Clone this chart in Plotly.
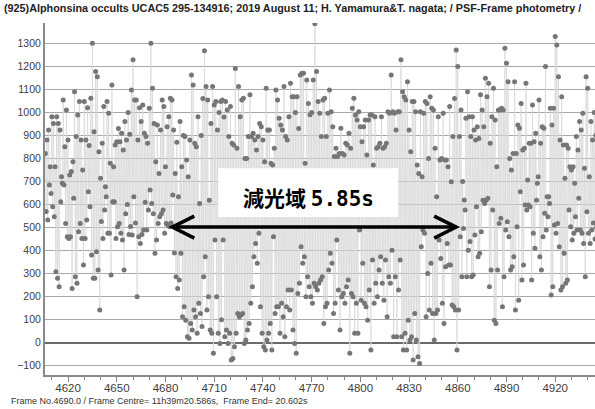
import plotly.graph_objects as go

# ---- data ----
frame_first = 4606

# brighter field of each frame
field_a = [
    822, 880, 924, 764, 981, 952, 764, 981, 952, 924, 721, 1054, 851, 1010, 880,
    728, 743, 786, 1090, 895, 989, 1047, 880, 750, 1047, 880, 1020, 856, 1061, 1300,
    916, 1177, 1155, 829, 714, 866, 1025, 677, 1047, 996, 779, 1119, 764, 858, 873,
    930, 873, 909, 837, 960, 880, 1000, 905, 1097, 1228, 1054,
    1054, 880, 1020, 960, 1032, 909, 895, 866, 1018, 1300, 1105, 952, 786, 945, 735,
    924, 1054, 1025, 764, 938, 981, 1061, 1054, 924, 735, 870, 634, 960, 764, 900,
    895, 793, 721, 880, 1162, 1119, 866, 851, 981, 605, 900, 1060, 1268, 1112, 1054,
    619, 952, 1112, 1032, 1047, 924, 1000, 1047,
    1054, 980, 1047, 1010, 895, 1025, 866, 858, 1191, 844, 1112, 981, 1054, 1061, 800,
    800, 895, 1076, 895, 909, 880, 837, 895, 952, 938, 880, 786, 1105, 924, 924,
    779, 772, 844, 1097, 1054, 974, 945, 924, 1112, 895, 880, 981, 1126, 1068, 1068,
    1000, 1068, 930, 1162, 1170, 1170, 779, 1141, 1039, 990, 1000,
    1141, 1385, 1177, 1047, 996, 895, 1054, 1061, 895, 996, 1097, 1003, 938, 808, 844,
    808, 822, 931, 822, 815, 866, 858, 909, 844, 1018, 1061, 989, 967, 1003, 938,
    873, 938, 967, 815, 967, 989, 989, 772, 981, 844, 851, 866,
    981, 844, 851, 866, 1003, 996, 1162, 1003, 996, 924, 1003, 1003, 1228, 1090,
    1068, 1054, 1133, 924, 829, 1047, 1047, 1003, 772, 735, 1003, 721, 996, 1047, 1039,
    800, 1068, 1018, 1010, 844, 634, 981, 793, 800, 996, 793, 793, 764, 1025, 699,
    895, 1060, 1271, 1199, 895, 1010, 700, 620, 974, 1090, 981, 895, 981, 924, 880,
    938, 887, 1076, 1010, 938, 1148, 1068, 1126, 866, 981, 1105,
    967, 764, 1010, 1010, 1018, 1010, 1278, 1213, 1133, 800, 750, 822, 1133, 822, 945,
    931, 1039, 837, 844, 1126, 706, 866, 866, 1032, 873, 909, 692, 1054, 866, 938,
    931, 1199, 634, 634, 1018, 945, 1018, 1329, 1293, 1155, 880, 1068, 858, 714, 858,
    844, 764, 750, 764, 692, 895, 837, 960, 924, 996, 757, 1155, 1105, 721, 960,
    880, 1000, 900,
]

# fainter field of each frame (drops during the occultation)
field_b = [
    570, 533, 685, 648, 590, 547, 308, 280, 243, 612, 692, 685, 518, 460, 453,
    460, 236, 627, 287, 258, 482, 518, 453, 337, 453, 533, 656, 590, 381, 280,
    280, 395, 316, 142, 526, 453, 576, 634, 475, 475, 294, 612, 612, 453, 504,
    518, 475, 446, 316, 560, 600, 470, 505, 468, 634, 520,
    200, 460, 431, 470, 489, 610, 489, 576, 663, 605, 560, 388, 446, 518, 547,
    560, 576, 475, 518, 511, 504, 520, 641, 390, 287, 236, 272, 388, 113, 156,
    98, 26, 19, 84, 55, 142, 113, 41, 171, 127, 70, 287, 373, 142, 200,
    55, 41, -46, 446, 200, 41, -3, 100,
    446, 26, 55, -3, 41, -75, -68, -17, 41, 127, 113, 120, 127, -3, 12,
    55, 84, 171, 243, 373, 431, 345, 475, 156, 41, -17, -32, 12, 41, 84,
    -32, 460, 127, 156, 156, 41, 171, 113, 26, 156, 229, 142, 229, 55, -3,
    -46, 214, 258, 417, 345, 373, 200, 287, 243, 200, 171,
    258, 243, 229, 258, 272, 287, 84, 156, 171, 316, 388, 345, 127, 171, 446,
    229, 55, 200, 214, 171, 243, 272, -46, 214, 200, 41, 171, 41, 489, 185,
    345, 171, 156, 98, 229, -32, 359, 171, 258, 200, 316, 373,
    258, 185, 359, 113, 287, 258, 402, 26, 287, 26, 229, 359, 26, -32,
    41, -32, 98, 12, 26, -75, 127, 12, -61, -90, 417, 489, 475, 113, 301,
    142, 345, 127, 12, 127, 142, 446, 366, 171, 84, 330, 431, 337, 337, 164,
    156, 142, -32, 142, 460, 287, 496, 576, 287, 402, 439, 287, 294, 468, 590,
    373, 388, 482, 619, 605, 619, 627, 243, 316, 576, 98,
    84, 316, 518, 540, 156, 287, 489, 525, 460, 316, 330, 373, 142, 504, 185,
    656, 272, 337, 598, 576, 598, 590, 272, 475, 410, 619, 721, 373, 316, 460,
    562, 489, 547, 605, 207, 243, 511, 475, 518, 417, 229, 243, 388, 258, 272,
    576, 504, 446, 475, 547, 489, 627, 489, 475, 431, 287, 569, 475, 431, 489,
    520, 450, 500,
]

title_text = ("(925)Alphonsina occults UCAC5 295-134916; 2019 August 11; "
              "H. Yamamura&T. nagata; / PSF-Frame photometry /")
footer_text = "Frame No.4690.0 / Frame Centre= 11h39m20.586s,  Frame End= 20.602s"
dip_start, dip_end, dip_level = 4684.2, 4859.0, 502

# ---- interleave the two fields (half-frame steps) ----
frames = list(range(frame_first, frame_first + len(field_a)))
xs, ys = [], []
for f, a, b in zip(frames, field_a, field_b):
    xs += [f, f + 0.5]
    ys += [a, b]

font_fam = "Liberation Sans, Arial, sans-serif"

fig = go.Figure()
fig.add_trace(go.Scatter(
    x=xs, y=ys, mode="lines+markers",
    line=dict(color="#d6d6d6", width=0.7),
    marker=dict(color="#767676", size=5, line=dict(width=0)),
    showlegend=False, hoverinfo="skip",
))

# double-headed arrow
arrow_col = "#000000"
fig.add_shape(type="line", x0=dip_start, x1=dip_end, y0=dip_level, y1=dip_level,
              xref="x", yref="y", line=dict(color=arrow_col, width=3.5))
fig.add_shape(type="path", xref="x", yref="y", xsizemode="pixel", ysizemode="pixel",
              xanchor=dip_start, yanchor=dip_level, path="M 22,11 L 0,0 L 22,-11",
              line=dict(color=arrow_col, width=3.5))
fig.add_shape(type="path", xref="x", yref="y", xsizemode="pixel", ysizemode="pixel",
              xanchor=dip_end, yanchor=dip_level, path="M -22,11 L 0,0 L -22,-11",
              line=dict(color=arrow_col, width=3.5))
# white label box
fig.add_shape(type="rect", xref="x", yref="y", x0=4712.5, x1=4823.3, y0=546, y1=758,
              fillcolor="white", line=dict(width=0))

fig.add_annotation(
    x=4768.2, y=633, xref="x", yref="y", showarrow=False,
    text=("<b>減光域 </b><span style=\"font-family:'DejaVu Sans Mono'\"><b>5.85s</b></span>"),
    font=dict(family="Noto Sans CJK JP", size=21, color="black"),
    xanchor="center", yanchor="middle",
)
fig.add_annotation(
    x=-43 / 550, y=(375 - 8) / 352, xref="paper", yref="paper", showarrow=False,
    text="<b>" + title_text + "</b>", xanchor="left", yanchor="middle",
    font=dict(family=font_fam, size=10.8, color="#222222"),
)
fig.add_annotation(
    x=-36 / 550, y=(375 - 401) / 352, xref="paper", yref="paper", showarrow=False,
    text=footer_text, xanchor="left", yanchor="middle",
    font=dict(family=font_fam, size=9, color="#333333"),
)

fig.update_layout(
    width=595, height=409,
    margin=dict(l=45, r=0, t=23, b=34),
    paper_bgcolor="white", plot_bgcolor="white",
    xaxis=dict(
        range=[4605.8, 4944.5], tick0=4620, dtick=30,
        ticks="outside", ticklen=5, tickcolor="#808080", tickwidth=1,
        ticklabelstandoff=-4,
        showline=True, linecolor="#8a8a8a", linewidth=2,
        showgrid=False, zeroline=False,
        tickfont=dict(family=font_fam, size=11.5, color="#404040"),
        minor=dict(dtick=10, tick0=4620, ticks="outside", ticklen=3,
                   tickcolor="#808080", showgrid=False),
    ),
    yaxis=dict(
        range=[-140, 1388], tick0=0, dtick=100,
        showgrid=True, gridcolor="#a8a8a8", gridwidth=1.2,
        zeroline=True, zerolinecolor="#6a6a6a", zerolinewidth=2,
        showline=True, linecolor="#8a8a8a", linewidth=2,
        ticks="", tickfont=dict(family=font_fam, size=10.5, color="#404040"),
    ),
)

fig.write_html("out.html", config={"displayModeBar": False},
               post_script="document.body.style.margin='0px';")
